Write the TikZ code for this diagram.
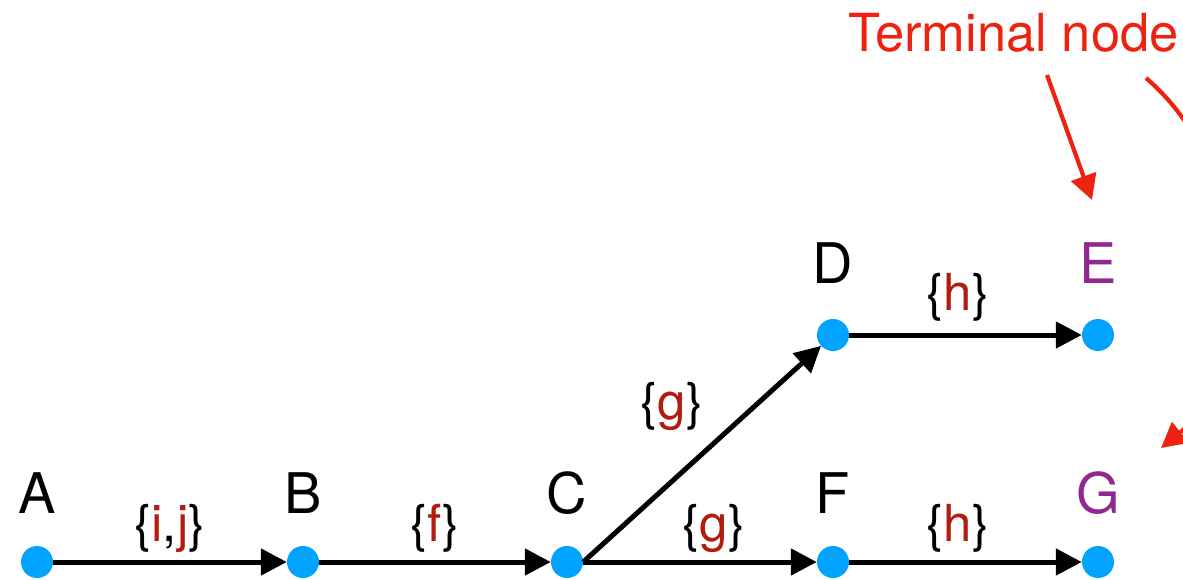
\documentclass[tikz,border=0pt]{standalone}
\usepackage{fontspec}
\setmainfont{TeX Gyre Heros}
\usetikzlibrary{arrows.meta}
\definecolor{dotblue}{RGB}{0,163,255}
\definecolor{labred}{RGB}{178,28,14}
\definecolor{termpurple}{RGB}{145,40,145}
\definecolor{annored}{RGB}{238,34,17}
\begin{document}
\begin{tikzpicture}[x=1pt,y=-1pt,
  dot/.style={circle,fill=dotblue,minimum size=32pt,inner sep=0pt},
  letter/.style={anchor=base,inner sep=0pt,font=\fontsize{56}{60}\selectfont},
  lab/.style={anchor=base,inner sep=0pt,font=\fontsize{51}{56}\selectfont},
  edge/.style={line width=5pt,-{Triangle[length=26pt,width=26pt]}},
  anno/.style={draw=annored,line width=4.2pt,-{Triangle[length=25pt,width=26pt,fill=annored]}}]
\useasboundingbox (0,0) rectangle (1183,580);
\clip (0,0) rectangle (1183,580);
% dots
\node[dot] (A) at (37,562) {};
\node[dot] (B) at (303,562) {};
\node[dot] (C) at (567,562) {};
\node[dot] (D) at (833,335) {};
\node[dot] (E) at (1098,335) {};
\node[dot] (F) at (833,562) {};
\node[dot] (G) at (1098,562) {};
% letters
\node[letter] (lA) at (37,513) {A};
\node[letter] (lB) at (303,513) {B};
\node[letter] (lC) at (567,513) {C};
\node[letter] (lF) at (833,513) {F};
\node[letter] (lD) at (833,283) {D};
\node[letter,text=termpurple] (lE) at (1098,283) {E};
\node[letter,text=termpurple] (lG) at (1098,513) {G};
% edges
\draw[edge] (A) -- (B);
\draw[edge] (B) -- (C);
\draw[edge] (C.east) -- (D);
\draw[edge] (C.east) -- (F);
\draw[edge] (D) -- (E);
\draw[edge] (F) -- (G);
% edge labels
\node[lab] (eAB) at (170,541) {\{\textcolor{labred}{i},\textcolor{labred}{j}\}};
\node[lab] (eBC) at (435,541) {\{\textcolor{labred}{f}\}};
\node[lab] (eCD) at (672,419) {\{\textcolor{labred}{g}\}};
\node[lab] (eCF) at (714,541) {\{\textcolor{labred}{g}\}};
\node[lab] (eDE) at (958,310) {\{\textcolor{labred}{h}\}};
\node[lab] (eFG) at (958,541) {\{\textcolor{labred}{h}\}};
% annotation
\node[letter,anchor=base west,text=annored,font=\fontsize{52.5}{57}\selectfont] (term) at (848,52) {Terminal node};
\coordinate (t1s) at (1047,75);
\coordinate (t1e) at (1092,200);
\coordinate (t2s) at (1146,78);
\coordinate (t2e) at (1161,448);
\draw[anno] (t1s) -- (t1e);
\draw[anno] (t2s) .. controls (1265,180) and (1245,380) .. (t2e);
\end{tikzpicture}
\end{document}
